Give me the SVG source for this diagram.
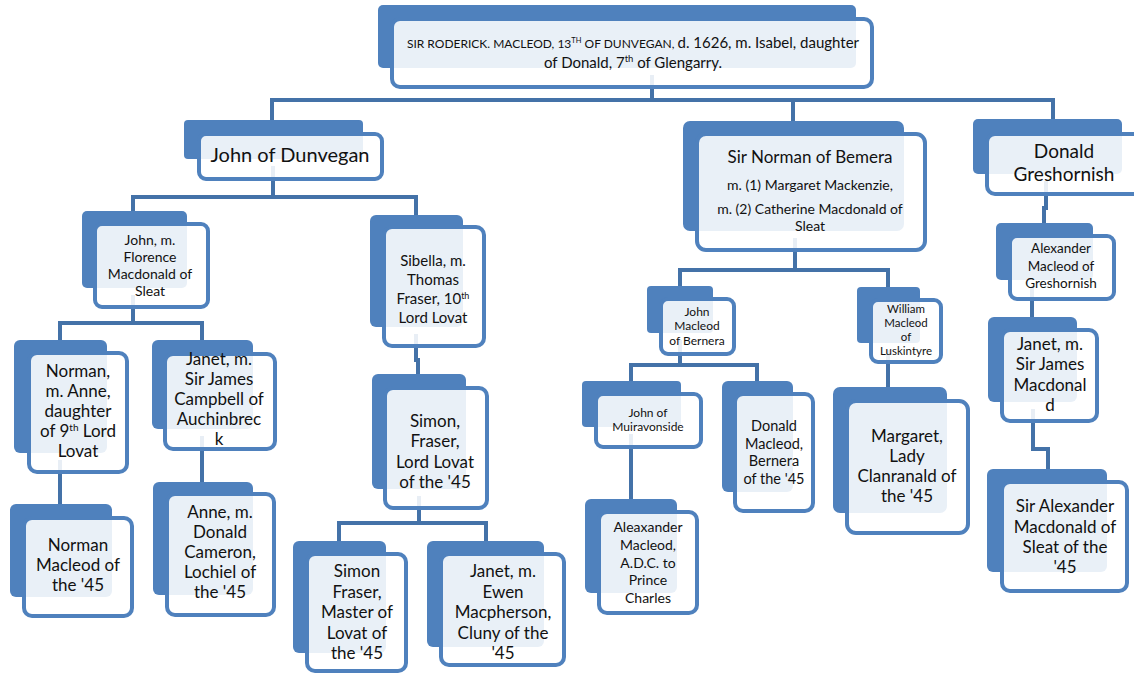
<svg xmlns="http://www.w3.org/2000/svg" width="1134" height="674" viewBox="0 0 1134 674">
<style>
.bk{fill:#4f81bd;}
.fr{fill:#ffffff;fill-opacity:0.88;stroke:#4f81bd;stroke-width:4;}
.cn{fill:none;stroke:#4472a8;stroke-width:4;}
text{font-family:Lato,"Liberation Sans",sans-serif;fill:#111111;text-anchor:middle;}
</style>
<rect width="1134" height="674" fill="#ffffff"/>
<g id="connectors" class="cn">
<path class="cn" d="M652,75 V100 M272,120 V100 H1053 V119 M793,100 V121"/>
<path class="cn" d="M273,166 V197 M133,211 V197 H416 V215"/>
<path class="cn" d="M133,295 V323 M60,340 V323 H202 V340"/>
<path class="cn" d="M60,460 V504"/>
<path class="cn" d="M202,436 V482"/>
<path class="cn" d="M416,334 V360 H418 V374"/>
<path class="cn" d="M419,496 V523 M339,541 V523 H486 V541"/>
<path class="cn" d="M795,238 V270 M680,286 V270 H888 V287"/>
<path class="cn" d="M680,340 V365 M631,381 V365 H757 V381"/>
<path class="cn" d="M631,434 V499"/>
<path class="cn" d="M888,350 V387"/>
<path class="cn" d="M1046,181 V208 H1044 V223"/>
<path class="cn" d="M1032,287 V317"/>
<path class="cn" d="M1033,409 V449 H1048 V469"/>
</g>
<g id="n-roderick">
<rect class="bk" x="378" y="5" width="478" height="63" rx="5"/>
<rect class="fr" x="392" y="19" width="480" height="68" rx="8"/>
<text x="633" y="48"><tspan font-size="12">SIR RODERICK. MACLEOD, 13</tspan><tspan font-size="7.5" dy="-5">TH</tspan><tspan font-size="12" dy="5"> OF DUNVEGAN, </tspan><tspan font-size="15">d. 1626, m. Isabel, daughter</tspan></text>
<text x="633" y="68" font-size="15">of Donald, 7<tspan font-size="9.5" dy="-6">th</tspan><tspan dy="6"> of Glengarry.</tspan></text>
</g>
<g id="n-john-dunvegan">
<rect class="bk" x="184" y="120" width="179" height="39" rx="4"/>
<rect class="fr" x="199" y="134" width="183" height="45" rx="7"/>
<text x="290" y="162" font-size="20">John of Dunvegan</text>
</g>
<g id="n-sir-norman">
<rect class="bk" x="683" y="121" width="221" height="110" rx="7"/>
<rect class="fr" x="697" y="134" width="228" height="116" rx="9"/>
<text x="810" y="163" font-size="17">Sir Norman of Bemera</text>
<text x="810" y="190" font-size="14">m. (1) Margaret Mackenzie,</text>
<text x="810" y="214" font-size="14">m. (2) Catherine Macdonald of</text>
<text x="810" y="231" font-size="14">Sleat</text>
</g>
<g id="n-donald-greshornish">
<rect class="bk" x="973" y="119" width="149" height="55" rx="5"/>
<rect class="fr" x="987" y="134" width="160" height="60" rx="8"/>
<text x="1064" y="158" font-size="19">Donald</text>
<text x="1064" y="181" font-size="19">Greshornish</text>
</g>
<g id="n-john-florence">
<rect class="bk" x="82" y="211" width="105" height="77" rx="5"/>
<rect class="fr" x="95" y="224" width="113" height="83" rx="7"/>
<text font-size="14"><tspan x="150" y="245">John, m.</tspan><tspan x="150" y="262">Florence</tspan><tspan x="150" y="279">Macdonald of</tspan><tspan x="150" y="296">Sleat</tspan></text>
</g>
<g id="n-sibella">
<rect class="bk" x="370" y="215" width="93" height="112" rx="6"/>
<rect class="fr" x="384" y="227" width="100" height="119" rx="8"/>
<text font-size="15"><tspan x="433" y="266">Sibella, m.</tspan><tspan x="433" y="285">Thomas</tspan><tspan x="433" y="304">Fraser, 10<tspan font-size="9" dy="-5">th</tspan></tspan><tspan x="433" y="323">Lord Lovat</tspan></text>
</g>
<g id="n-norman-anne">
<rect class="bk" x="14" y="340" width="93" height="113" rx="6"/>
<rect class="fr" x="29" y="353" width="98" height="119" rx="8"/>
<text font-size="17"><tspan x="78" y="377">Norman,</tspan><tspan x="78" y="397">m. Anne,</tspan><tspan x="78" y="417">daughter</tspan><tspan x="78" y="437">of 9<tspan font-size="10" dy="-6">th</tspan><tspan dy="6"> Lord</tspan></tspan><tspan x="78" y="457">Lovat</tspan></text>
</g>
<g id="n-janet-campbell">
<rect class="bk" x="152" y="340" width="101" height="89" rx="6"/>
<rect class="fr" x="165" y="354" width="110" height="95" rx="8"/>
<text font-size="17"><tspan x="219" y="365">Janet, m.</tspan><tspan x="219" y="385">Sir James</tspan><tspan x="219" y="405">Campbell of</tspan><tspan x="219" y="425">Auchinbrec</tspan><tspan x="219" y="445">k</tspan></text>
</g>
<g id="n-norman-45">
<rect class="bk" x="10" y="504" width="102" height="93" rx="6"/>
<rect class="fr" x="24" y="518" width="108" height="98" rx="8"/>
<text font-size="17"><tspan x="78" y="551">Norman</tspan><tspan x="78" y="571">Macleod of</tspan><tspan x="78" y="591">the '45</tspan></text>
</g>
<g id="n-anne-cameron">
<rect class="bk" x="153" y="482" width="100" height="113" rx="6"/>
<rect class="fr" x="167" y="494" width="107" height="121" rx="8"/>
<text font-size="17"><tspan x="220" y="518">Anne, m.</tspan><tspan x="220" y="538">Donald</tspan><tspan x="220" y="558">Cameron,</tspan><tspan x="220" y="578">Lochiel of</tspan><tspan x="220" y="598">the '45</tspan></text>
</g>
<g id="n-simon-lovat">
<rect class="bk" x="372" y="374" width="94" height="115" rx="6"/>
<rect class="fr" x="385" y="388" width="102" height="120" rx="8"/>
<text font-size="17"><tspan x="435" y="427">Simon,</tspan><tspan x="435" y="447">Fraser,</tspan><tspan x="435" y="468">Lord Lovat</tspan><tspan x="435" y="488">of the '45</tspan></text>
</g>
<g id="n-simon-master">
<rect class="bk" x="293" y="541" width="93" height="112" rx="6"/>
<rect class="fr" x="307" y="554" width="99" height="117" rx="8"/>
<text font-size="17"><tspan x="357" y="577">Simon</tspan><tspan x="357" y="598">Fraser,</tspan><tspan x="357" y="618">Master of</tspan><tspan x="357" y="639">Lovat of</tspan><tspan x="357" y="659">the '45</tspan></text>
</g>
<g id="n-janet-macpherson">
<rect class="bk" x="427" y="541" width="117" height="106" rx="6"/>
<rect class="fr" x="441" y="554" width="123" height="111" rx="8"/>
<text font-size="17"><tspan x="503" y="577">Janet, m.</tspan><tspan x="503" y="598">Ewen</tspan><tspan x="503" y="618">Macpherson,</tspan><tspan x="503" y="639">Cluny of the</tspan><tspan x="503" y="659">'45</tspan></text>
</g>
<g id="n-john-bernera">
<rect class="bk" x="647" y="286" width="66" height="47" rx="4"/>
<rect class="fr" x="661" y="299" width="73" height="55" rx="7"/>
<text font-size="12"><tspan x="697" y="316">John</tspan><tspan x="697" y="330">Macleod</tspan><tspan x="697" y="345">of Bernera</tspan></text>
</g>
<g id="n-william">
<rect class="bk" x="857" y="287" width="63" height="56" rx="4"/>
<rect class="fr" x="871" y="300" width="70" height="62" rx="7"/>
<text font-size="11.5"><tspan x="906" y="313">William</tspan><tspan x="906" y="327">Macleod</tspan><tspan x="906" y="341">of</tspan><tspan x="906" y="355">Luskintyre</tspan></text>
</g>
<g id="n-john-muiravonside">
<rect class="bk" x="582" y="381" width="99" height="46" rx="4"/>
<rect class="fr" x="596" y="394" width="105" height="53" rx="7"/>
<text font-size="12"><tspan x="648" y="417">John of</tspan><tspan x="648" y="431">Muiravonside</tspan></text>
</g>
<g id="n-donald-bernera">
<rect class="bk" x="722" y="381" width="71" height="111" rx="6"/>
<rect class="fr" x="735" y="394" width="78" height="117" rx="8"/>
<text font-size="14.5"><tspan x="774" y="431">Donald</tspan><tspan x="774" y="449">Macleod,</tspan><tspan x="774" y="466">Bernera</tspan><tspan x="774" y="484">of the '45</tspan></text>
</g>
<g id="n-margaret">
<rect class="bk" x="833" y="387" width="114" height="126" rx="7"/>
<rect class="fr" x="847" y="401" width="121" height="132" rx="9"/>
<text font-size="17"><tspan x="907" y="442">Margaret,</tspan><tspan x="907" y="462">Lady</tspan><tspan x="907" y="482">Clanranald of</tspan><tspan x="907" y="502">the '45</tspan></text>
</g>
<g id="n-aleaxander">
<rect class="bk" x="585" y="499" width="92" height="94" rx="6"/>
<rect class="fr" x="599" y="512" width="98" height="101" rx="8"/>
<text font-size="14"><tspan x="648" y="532">Aleaxander</tspan><tspan x="648" y="550">Macleod,</tspan><tspan x="648" y="568">A.D.C. to</tspan><tspan x="648" y="585">Prince</tspan><tspan x="648" y="603">Charles</tspan></text>
</g>
<g id="n-alexander-greshornish">
<rect class="bk" x="996" y="223" width="97" height="57" rx="5"/>
<rect class="fr" x="1010" y="236" width="104" height="63" rx="7"/>
<text font-size="13.5"><tspan x="1061" y="253">Alexander</tspan><tspan x="1061" y="271">Macleod of</tspan><tspan x="1061" y="288">Greshornish</tspan></text>
</g>
<g id="n-janet-macdonald">
<rect class="bk" x="988" y="317" width="89" height="85" rx="6"/>
<rect class="fr" x="1002" y="330" width="95" height="91" rx="8"/>
<text font-size="17"><tspan x="1050" y="350">Janet, m.</tspan><tspan x="1050" y="370">Sir James</tspan><tspan x="1050" y="391">Macdonal</tspan><tspan x="1050" y="411">d</tspan></text>
</g>
<g id="n-sir-alexander">
<rect class="bk" x="987" y="469" width="120" height="103" rx="6"/>
<rect class="fr" x="1002" y="482" width="125" height="109" rx="8"/>
<text font-size="17"><tspan x="1065" y="512">Sir Alexander</tspan><tspan x="1065" y="533">Macdonald of</tspan><tspan x="1065" y="553">Sleat of the</tspan><tspan x="1065" y="573">'45</tspan></text>
</g>
</svg>
